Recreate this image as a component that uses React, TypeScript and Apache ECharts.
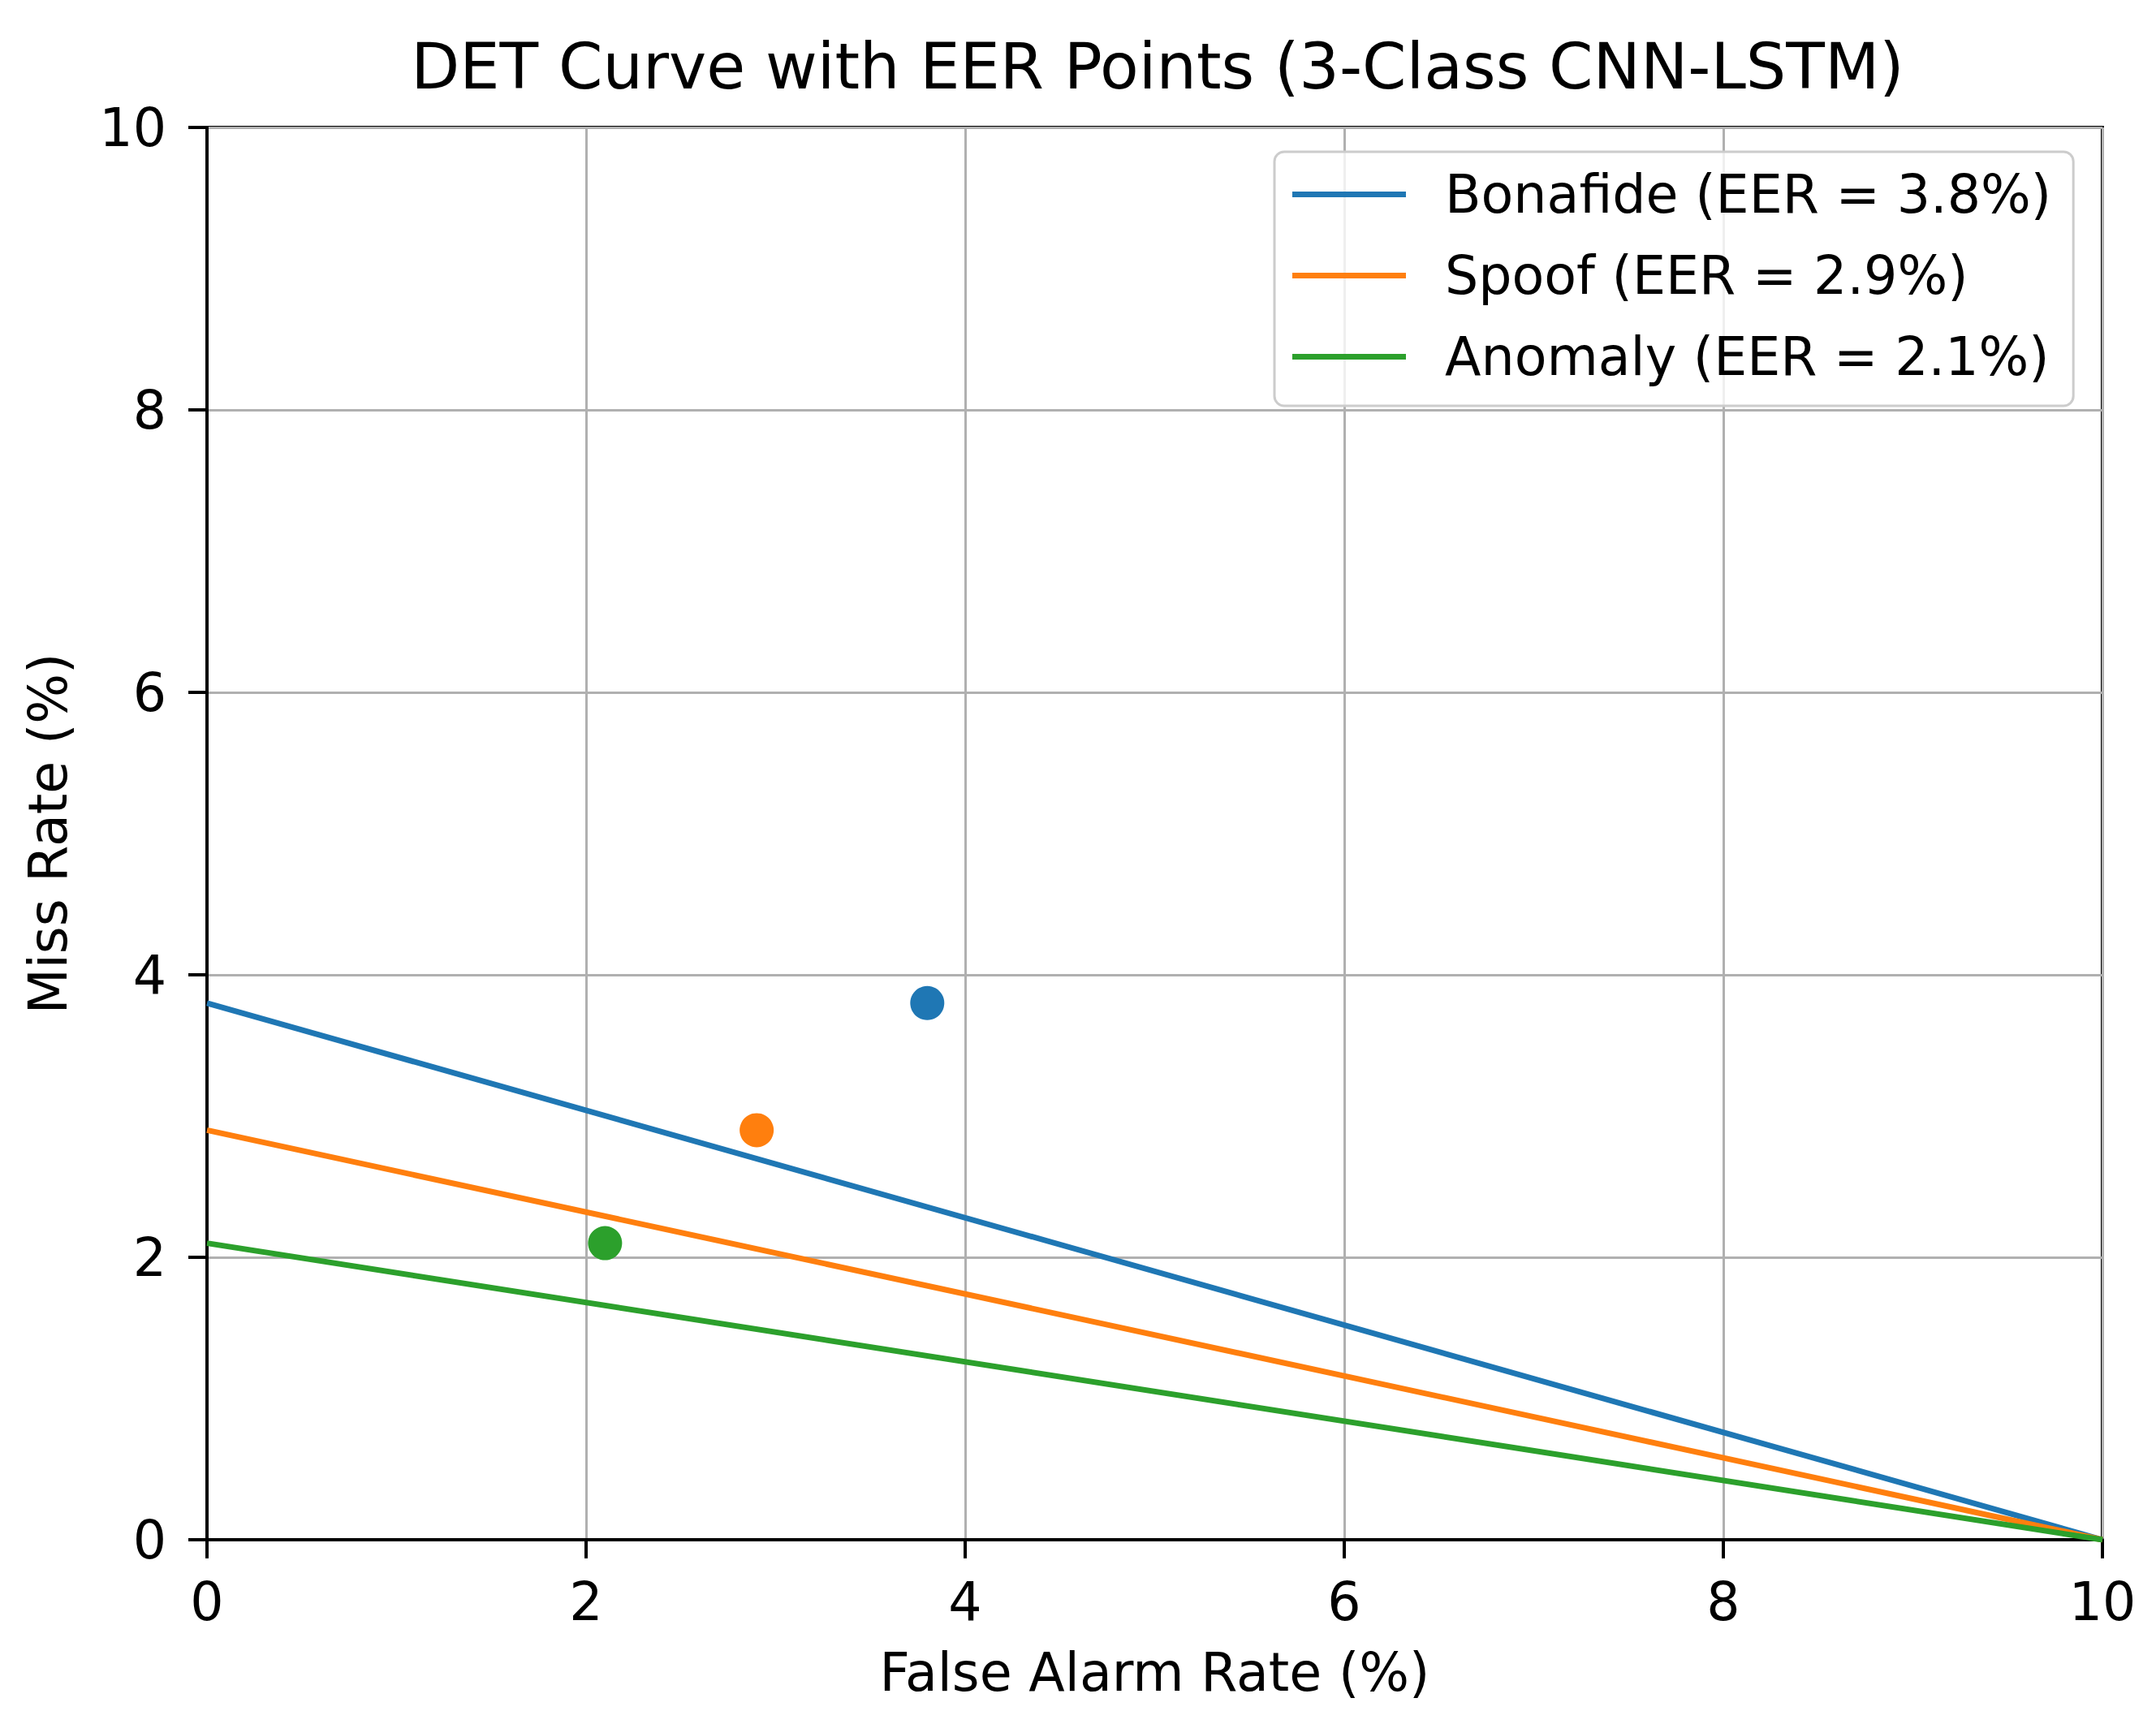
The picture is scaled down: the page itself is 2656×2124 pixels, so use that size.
import { useEffect, useRef } from 'react';
import * as echarts from 'echarts';

// Data
const falseAlarm = [0, 10];
const bonafideMiss = [3.8, 0];
const spoofMiss = [2.9, 0];
const anomalyMiss = [2.1, 0];

const eerNames = ['Bonafide (EER = 3.8%)', 'Spoof (EER = 2.9%)', 'Anomaly (EER = 2.1%)'];
const eerValues = [3.8, 2.9, 2.1];
const colors = ['#1f77b4', '#ff7f0e', '#2ca02c'];

const FONT = 'DejaVu Sans';

export default function App() {
  const chartRef = useRef<HTMLDivElement>(null);

  useEffect(() => {
    if (!chartRef.current) return;
    const chart = echarts.init(chartRef.current, undefined, { renderer: 'svg' });

    const curves = [bonafideMiss, spoofMiss, anomalyMiss];

    const lineSeries = curves.map((ys, i) => ({
      name: eerNames[i],
      type: 'line',
      data: falseAlarm.map((x, j) => [x, ys[j]]),
      showSymbol: false,
      symbol: 'none',
      lineStyle: { color: colors[i], width: 7 },
      itemStyle: { color: colors[i] },
      z: 3,
    }));

    const pointSeries = eerValues.map((v, i) => ({
      name: 'eer-' + i,
      type: 'scatter',
      data: [[v, v]],
      symbolSize: 42,
      itemStyle: { color: colors[i], opacity: 1 },
      z: 4,
    }));

    const option = {
      animation: false,
      backgroundColor: '#fff',
      title: {
        text: 'DET Curve with EER Points (3-Class CNN-LSTM)',
        left: 1421,
        textAlign: 'center',
        top: 38,
        textStyle: { fontFamily: FONT, fontSize: 78, fontWeight: 'normal', color: '#000' },
      },
      legend: {
        data: eerNames,
        orient: 'vertical',
        left: 1570,
        top: 187,
        icon: 'rect',
        itemWidth: 140,
        itemHeight: 7,
        itemGap: 35,
        padding: [20, 27, 28, 22],
        backgroundColor: 'rgba(255,255,255,0.8)',
        borderColor: '#cccccc',
        borderWidth: 3,
        borderRadius: 12,
        textStyle: {
          fontFamily: FONT,
          fontSize: 65,
          color: '#000',
          lineHeight: 65,
          padding: [0, 0, 0, 43],
        },
      },
      grid: {
        left: 255,
        top: 157,
        width: 2335,
        height: 1740,
        show: true,
        borderColor: '#000',
        borderWidth: 4,
        backgroundColor: 'transparent',
      },
      xAxis: {
        type: 'value',
        min: 0,
        max: 10,
        interval: 2,
        name: 'False Alarm Rate (%)',
        nameLocation: 'middle',
        nameGap: 131,
        nameTextStyle: { fontFamily: FONT, fontSize: 65, color: '#000' },
        axisLine: { show: true, lineStyle: { color: '#000', width: 4 } },
        axisTick: { show: true, inside: false, length: 23, lineStyle: { color: '#000', width: 4 } },
        axisLabel: { fontFamily: FONT, fontSize: 65, color: '#000', margin: 44 },
        splitLine: { show: true, lineStyle: { color: '#b0b0b0', width: 3 } },
      },
      yAxis: {
        type: 'value',
        min: 0,
        max: 10,
        interval: 2,
        name: 'Miss Rate (%)',
        nameLocation: 'middle',
        nameGap: 163,
        nameTextStyle: { fontFamily: FONT, fontSize: 65, color: '#000' },
        axisLine: { show: true, lineStyle: { color: '#000', width: 4 } },
        axisTick: { show: true, inside: false, length: 23, lineStyle: { color: '#000', width: 4 } },
        axisLabel: { fontFamily: FONT, fontSize: 65, color: '#000', margin: 50 },
        splitLine: { show: true, lineStyle: { color: '#b0b0b0', width: 3 } },
      },
      series: [...lineSeries, ...pointSeries],
    };

    chart.setOption(option as any);

    return () => {
      chart.dispose();
    };
  }, []);

  return (
    <div
      ref={chartRef}
      style={{ position: 'fixed', left: 0, top: 0, width: '2656px', height: '2124px' }}
    />
  );
}
